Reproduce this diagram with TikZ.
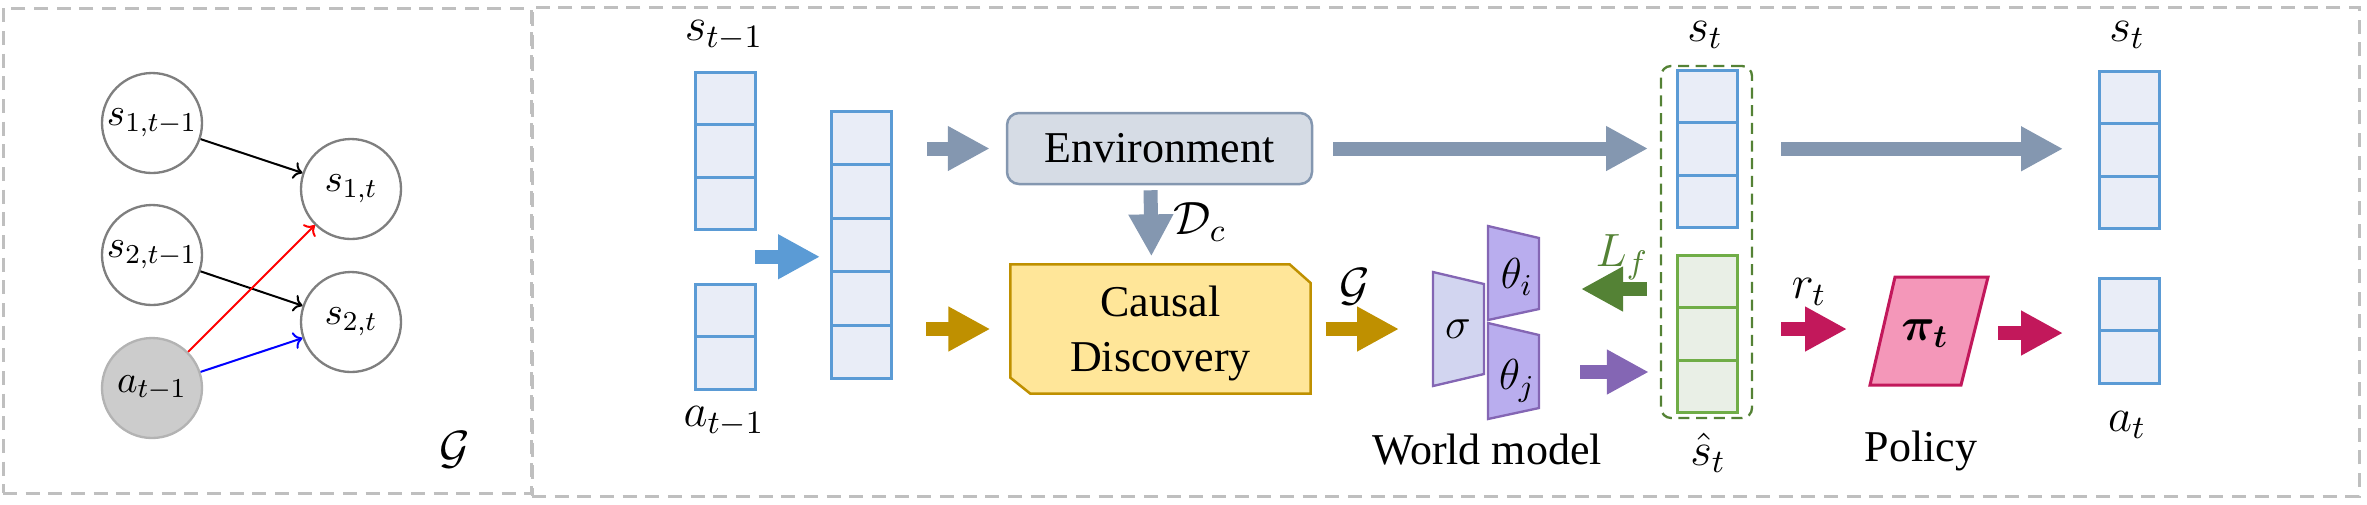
\RequirePackage{fix-cm}
\documentclass[tikz,border=0pt]{standalone}
\usepackage[no-math]{fontspec}
\setmainfont{Liberation Serif}
\usepackage{bm}
\usetikzlibrary{arrows.meta,calc}
\definecolor{vecB}{HTML}{5B9BD5}
\definecolor{vecBF}{HTML}{E9EDF7}
\definecolor{vecG}{HTML}{70AD47}
\definecolor{vecGF}{HTML}{E9EFE6}
\definecolor{envF}{HTML}{D6DCE5}
\definecolor{envD}{HTML}{8497B0}
\definecolor{cdF}{HTML}{FFE699}
\definecolor{cdD}{HTML}{BF9000}
\definecolor{wmD}{HTML}{8466B4}
\definecolor{sigF}{HTML}{D2D5F0}
\definecolor{thF}{HTML}{B9ADEE}
\definecolor{polF}{HTML}{F497B9}
\definecolor{polD}{HTML}{C2185B}
\definecolor{grn}{HTML}{548235}
\definecolor{boxG}{HTML}{BFBFBF}
\definecolor{circD}{HTML}{7F7F7F}
\definecolor{circF}{HTML}{CCCCCC}
\definecolor{circFD}{HTML}{B3B3B3}
\begin{document}
\begin{tikzpicture}[x=0.3pt,y=-0.3pt,
  cellB/.style={draw=vecB, fill=vecBF, line width=0.9pt, minimum width=18pt, minimum height=15.75pt, inner sep=0pt, outer sep=0pt, anchor=north west},
  cellG/.style={cellB, draw=vecG, fill=vecGF},
  barrow/.style={line width=4.2pt, -{Triangle[width=12.6pt,length=12.6pt]}},
  txt/.style={font=\rmfamily\fontsize{13.2}{16.5}\selectfont, inner sep=0pt},
  mlab/.style={font=\fontsize{14}{16}\selectfont, inner sep=0pt},
  gnode/.style={circle, draw=circD, line width=0.7pt, minimum size=30pt, inner sep=0pt, font=\fontsize{11.7}{14}\selectfont},
  garrow/.style={line width=0.6pt, -{To[length=2.6pt,width=5.2pt]}},
  panel/.style={draw=boxG, line width=0.9pt, dash pattern=on 4.2pt off 2.6pt, inner sep=0pt},
  wmshape/.style={draw=wmD, line width=0.7pt, line join=miter},
]
\useasboundingbox (0,0) rectangle (2367,504);

% panels
\node[panel, minimum width=158.4pt, minimum height=145.5pt] (pL) at (267,250.5) {};
\node[panel, minimum width=548.1pt, minimum height=146.7pt] (pR) at (1445.5,251.5) {};

% ---------- left panel: causal graph ----------
\node[gnode] (s1p) at (152,123) {$s_{1,t-1}$};
\node[gnode] (s2p) at (152,255) {$s_{2,t-1}$};
\node[gnode, fill=circF, draw=circFD] (ap) at (152,388) {$a_{t-1}$};
\node[gnode] (s1) at (351,189) {$s_{1,t}$};
\node[gnode] (s2) at (351,322) {$s_{2,t}$};
\draw[garrow, draw=black] (s1p) -- (s1);
\draw[garrow, draw=black] (s2p) -- (s2);
\draw[garrow, draw=red] (ap) -- (s1);
\draw[garrow, draw=blue] (ap) -- (s2);
\node[font=\fontsize{14}{16}\selectfont, inner sep=0pt] (Gl) at (455,450) {$\mathcal{G}$};

% ---------- vectors ----------
\foreach \i in {1,2,3} {\node[cellB] (st1-\i) at (695,{72+(\i-1)*52.5}) {};}
\foreach \i in {1,2} {\node[cellB] (at1-\i) at (695,{284+(\i-1)*52.5}) {};}
\foreach \i in {1,...,5} {\node[cellB, minimum height=16.05pt] (cat-\i) at (831,{111+(\i-1)*53.5}) {};}
\foreach \i in {1,2,3} {\node[cellB] (st-\i) at (1677,{70+(\i-1)*52.5}) {};}
\foreach \i in {1,2,3} {\node[cellG] (sh-\i) at (1677,{255+(\i-1)*52.5}) {};}
\foreach \i in {1,2,3} {\node[cellB] (str-\i) at (2099,{71+(\i-1)*52.5}) {};}
\foreach \i in {1,2} {\node[cellB] (at-\i) at (2099,{278+(\i-1)*52.5}) {};}

\node[draw=grn, line width=0.7pt, dash pattern=on 3.3pt off 2pt, rounded corners=3pt, minimum width=27.3pt, minimum height=105.6pt, inner sep=0pt] (gbox) at (1706.5,242) {};

% vector labels
\node[mlab] (lst1) at (724,35) {$s_{t-1}$};
\node[mlab] (lat1) at (724,421) {$a_{t-1}$};
\node[mlab] (lst) at (1705,35) {$s_t$};
\node[mlab] (lsh) at (1708,453) {$\hat{s}_t$};
\node[mlab] (lstr) at (2127,35) {$s_t$};
\node[mlab] (lat) at (2127,425) {$a_t$};

% ---------- environment & causal discovery ----------
\node[txt, draw=envD, fill=envF, line width=0.75pt, rounded corners=3.6pt, minimum width=91.5pt, minimum height=21.3pt] (env) at (1159.5,148.5) {Environment};
\node[minimum width=89.7pt, minimum height=38.4pt, inner sep=0pt] (causal) at (1160.5,329) {};
\filldraw[draw=cdD, fill=cdF, line width=0.75pt] (causal.north west) -- ([xshift=-6.3pt]causal.north east) -- ([yshift=-5.6pt]causal.north east) -- (causal.south east) -- ([xshift=6pt]causal.south west) -- ([yshift=4.8pt]causal.south west) -- cycle;
\node[txt, align=center] (cdtext) at ([yshift=-1.2pt]causal.center) {Causal\\Discovery};

% ---------- world model ----------
\filldraw[wmshape, fill=sigF] (1433,272) -- (1484,284) -- (1484,374) -- (1433,386) -- cycle;
\filldraw[wmshape, fill=thF] (1488,226) -- (1539,238) -- (1539,309) -- (1488,320) -- cycle;
\filldraw[wmshape, fill=thF] (1488,323) -- (1539,335) -- (1539,408) -- (1488,419) -- cycle;
\node[mlab, font=\fontsize{13}{15}\selectfont] (sig) at (1458,329) {$\sigma$};
\node[mlab, font=\fontsize{13}{15}\selectfont] (thi) at (1517,277) {$\theta_i$};
\node[mlab, font=\fontsize{13}{15}\selectfont] (thj) at (1517,381) {$\theta_j$};
\node[txt] (wm) at (1487,450) {World model};
\coordinate (sigW) at (1433,329);
\coordinate (thiE) at (1539,289);
\coordinate (thjE) at (1539,372);

% ---------- policy ----------
\filldraw[draw=polD, fill=polF, line width=0.9pt] (1895,277) -- (1988,277) -- (1961,385) -- (1870,385) -- cycle;
\node[mlab] (pi) at (1925,334) {$\bm{\pi}_{\bm{t}}$};
\node[txt] (pol) at (1921,451) {Policy};
\coordinate (polW) at (1883,329);
\coordinate (polE) at (1974,333);

% ---------- block arrows ----------
\coordinate (bA) at ($(st1-3.south east)!0.5!(at1-1.north east)$);
\draw[barrow, draw=vecB, shorten >=3.3pt] (bA) -- (bA -| cat-1.west);
\draw[barrow, draw=envD, shorten <=10.8pt, shorten >=4.8pt] (cat-1.east |- env.west) -- (env.west);
\draw[barrow, draw=cdD, shorten <=10.5pt, shorten >=6pt] (cat-1.east |- causal.west) -- (causal.west);
\draw[barrow, draw=envD, shorten <=1.5pt, shorten >=2.4pt] ([xshift=-2.7pt]env.south) -- ([xshift=-2.7pt]causal.north);
\draw[barrow, draw=cdD, shorten <=4.5pt, shorten >=10.2pt] (causal.east) -- (sigW);
\draw[barrow, draw=envD, shorten <=6pt, shorten >=8.7pt] (env.east) -- (env.east -| st-1.west);
\draw[barrow, draw=grn, shorten <=3.9pt, shorten >=12.6pt] (thiE -| gbox.west) -- (thiE);
\draw[barrow, draw=wmD, shorten <=12.3pt, shorten >=3.3pt] (thjE) -- (thjE -| gbox.west);
\draw[barrow, draw=envD, shorten <=13.2pt, shorten >=10.8pt] (st-2.east) -- (st-2.east -| str-2.west);
\draw[barrow, draw=polD, shorten <=13.2pt, shorten >=10.8pt] (polW -| sh-2.east) -- (polW);
\draw[barrow, draw=polD, shorten <=7.2pt, shorten >=10.8pt] (polE) -- (polE -| at-1.west);

% arrow labels
\node[mlab] (lD) at (1200,222) {$\mathcal{D}_c$};
\node[mlab] (lG) at (1355,287) {$\mathcal{G}$};
\node[mlab, text=grn] (lL) at (1622,257) {$L_f$};
\node[mlab] (lr) at (1809,292) {$r_t$};
\end{tikzpicture}
\end{document}
